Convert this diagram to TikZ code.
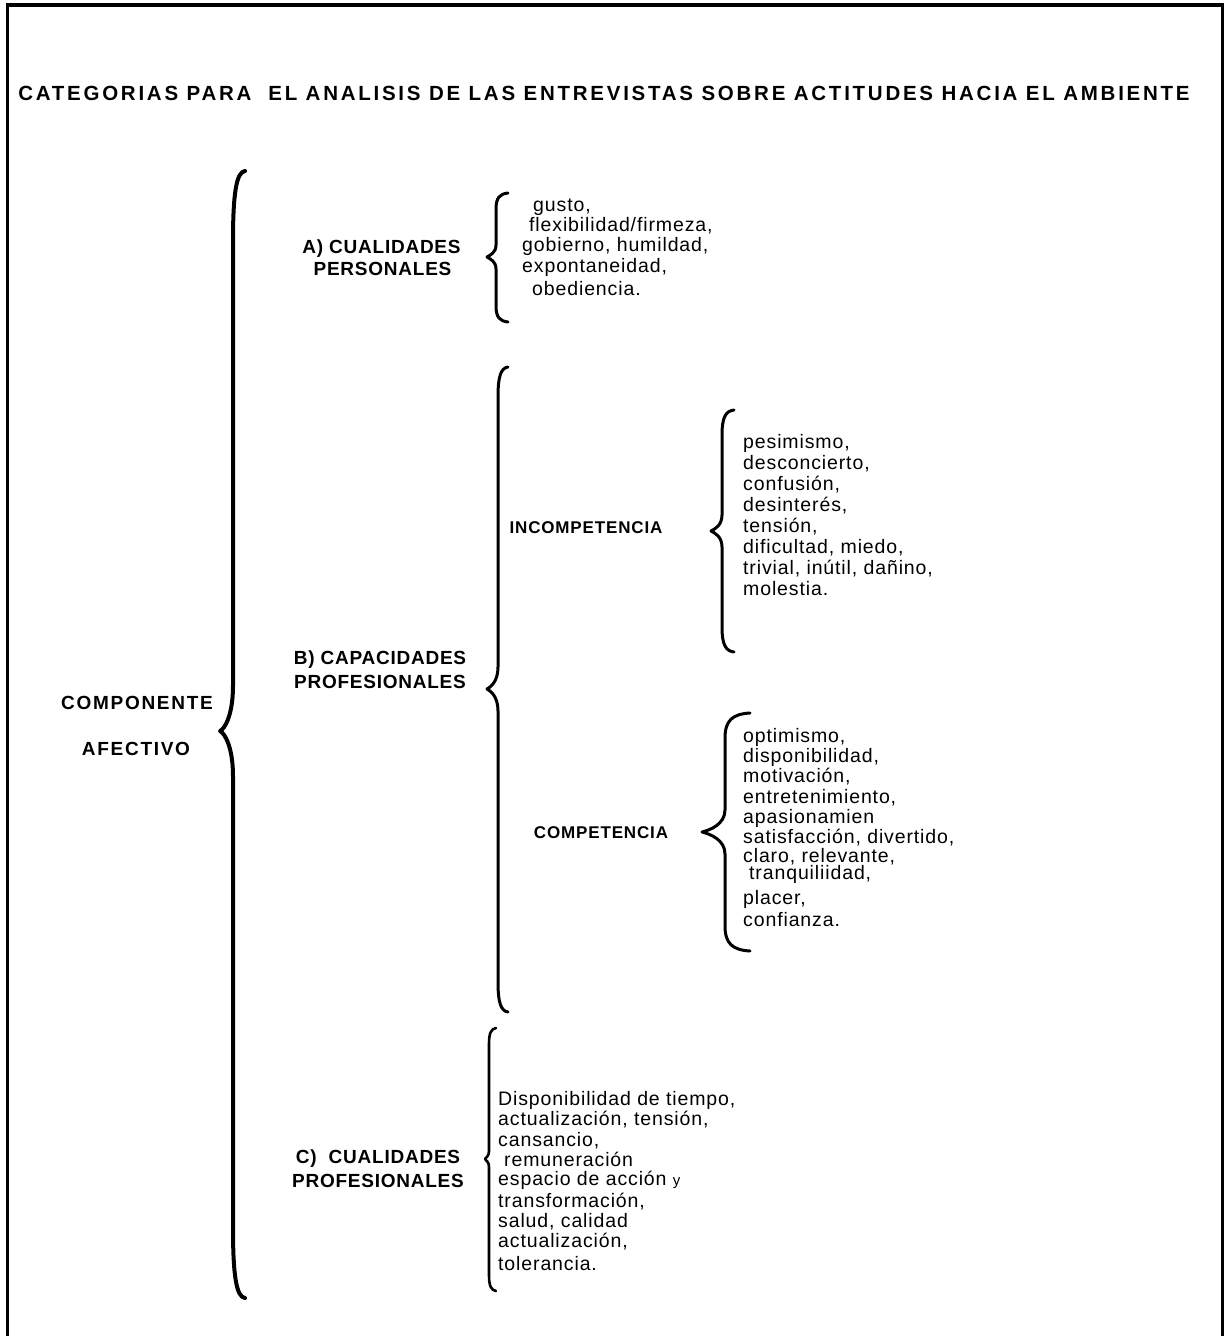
\documentclass[tikz,border=0pt]{standalone}
\usepackage{fontspec}
\setmainfont{Liberation Sans}
\newfontfamily\bodyfont{Liberation Sans}[LetterSpace=4.5]
\newfontfamily\labelfont{Liberation Sans}[LetterSpace=4]
\newfontfamily\sublabelfont{Liberation Sans}[LetterSpace=5]
\newfontfamily\widelabelfont{Liberation Sans}[LetterSpace=9]
\newfontfamily\titlefont{Liberation Sans}[LetterSpace=13.4]

% curly brace: #1 end x, #2 top y, #3 stem x, #4 tip x, #5 tip y, #6 bottom y,
% #7 length of the end hooks, #8 length of the approach to the tip
\newcommand\cbrace[8]{%
  \draw[bracestroke]
    (#1,#2) .. controls ({#3+(#1-#3)*0.3},{#2+1}) and (#3,{#2+#7*0.3}) .. (#3,{#2+#7})
    -- (#3,{#5-#8})
    .. controls (#3,{#5-#8*0.35}) and ({#4+(#3-#4)*0.35},{#5-2}) .. (#4,#5)
    .. controls ({#4+(#3-#4)*0.35},{#5+2}) and (#3,{#5+#8*0.35}) .. (#3,{#5+#8})
    -- (#3,{#6-#7})
    .. controls (#3,{#6-#7*0.3}) and ({#3+(#1-#3)*0.3},{#6-1}) .. (#1,#6);}

\tikzset{
  bracestroke/.style={line width=3pt, line cap=round, line join=round},
  item/.style={anchor=base west, inner sep=0pt, font=\bodyfont\fontsize{19.5}{20}\selectfont},
  heading/.style={anchor=base, inner sep=0pt, font=\labelfont\bfseries\fontsize{19}{22}\selectfont},
  subheading/.style={anchor=base, inner sep=0pt, font=\sublabelfont\bfseries\fontsize{17}{20}\selectfont},
  mainheading/.style={anchor=base, inner sep=0pt, font=\widelabelfont\bfseries\fontsize{19}{22}\selectfont},
  titlestyle/.style={anchor=base, inner sep=0pt, font=\titlefont\bfseries\fontsize{20.5}{24}\selectfont},
}

\begin{document}
\begin{tikzpicture}[x=1pt, y=-1pt]
\useasboundingbox (0,0) rectangle (1226,1336);

% open frame: left, top and right sides
\draw[line width=3.5pt] (7.5,1340) -- (7.5,5) -- (1222.5,5) -- (1222.5,1340);

% title
\node[titlestyle] (title) at (604,100.5)
  {CATEGORIAS PARA \ EL ANALISIS DE LAS ENTREVISTAS SOBRE ACTITUDES HACIA EL AMBIENTE};

% main category
\node[mainheading] (comp1) at (137,709) {COMPONENTE};
\node[mainheading] (comp2) at (136,755) {AFECTIVO};
\begin{scope}[bracestroke/.append style={line width=4pt}]
\cbrace{245}{171}{233}{220}{731}{1298}{70}{45}
\end{scope}

% A) personal qualities
\node[heading] (a1) at (381.5,253) {A) CUALIDADES};
\node[heading] (a2) at (382.5,275.5) {PERSONALES};
\cbrace{508}{193}{496}{487}{257}{322}{16}{12}
\foreach \x/\y/\t [count=\i] in {
  533/211/{gusto,},
  529/231/{flexibilidad/firmeza,},
  522/251.5/{gobierno, humildad,},
  522/272.5/{expontaneidad,},
  532/295/{obediencia.}}
  \node[item, name=alist\i] at (\x,\y) {\t};

% B) professional capacities
\node[heading] (b1) at (380,664.5) {B) CAPACIDADES};
\node[heading] (b2) at (380,688.5) {PROFESIONALES};
\cbrace{508}{367}{498}{487}{689}{1012}{30}{22}

% incompetence
\node[subheading] (inc) at (586,533) {INCOMPETENCIA};
\cbrace{734}{410}{722}{711}{531}{652}{25}{16}
\foreach \y/\t [count=\i] in {
  448/{pesimismo,},
  469/{desconcierto,},
  490/{confusión,},
  511/{desinterés,},
  532/{tensión,},
  553/{dificultad, miedo,},
  574/{trivial, inútil, dañino,},
  595/{molestia.}}
  \node[item, name=inclist\i] at (743,\y) {\t};

% competence
\node[subheading] (cmp) at (601,838) {COMPETENCIA};
\cbrace{750}{713}{725}{702}{832}{951}{25}{22}
\foreach \x/\y/\t [count=\i] in {
  743/742.5/{optimismo,},
  743/762.5/{disponibilidad,},
  743/782.5/{motivación,},
  743/803/{entretenimiento,},
  743/823/{apasionamien},
  743/843.5/{satisfacción, divertido,},
  743/862.5/{claro, relevante,},
  749/879.5/{tranquiliidad,},
  743/904.5/{placer,},
  743/926.5/{confianza.}}
  \node[item, name=cmplist\i] at (\x,\y) {\t};

% C) professional qualities
\node[heading] (c1) at (378,1163.5) {C) \ CUALIDADES};
\node[heading] (c2) at (378,1187.5) {PROFESIONALES};
\begin{scope}[bracestroke/.append style={line width=2.6pt}]
\cbrace{496}{1028}{489}{485}{1159}{1291}{16}{8}
\end{scope}
\foreach \x/\y/\t [count=\i] in {
  498/1105.5/{Disponibilidad de tiempo,},
  498/1125.5/{actualización, tensión,},
  498/1146.5/{cansancio,},
  504/1166.5/{remuneración},
  498/1185.5/{espacio de acción {\fontsize{15}{16}\selectfont y}},
  498/1207.5/{transformación,},
  498/1227.5/{salud, calidad},
  498/1247.5/{actualización,},
  498/1270.5/{tolerancia.}}
  \node[item, name=clist\i] at (\x,\y) {\t};
\end{tikzpicture}
\end{document}
